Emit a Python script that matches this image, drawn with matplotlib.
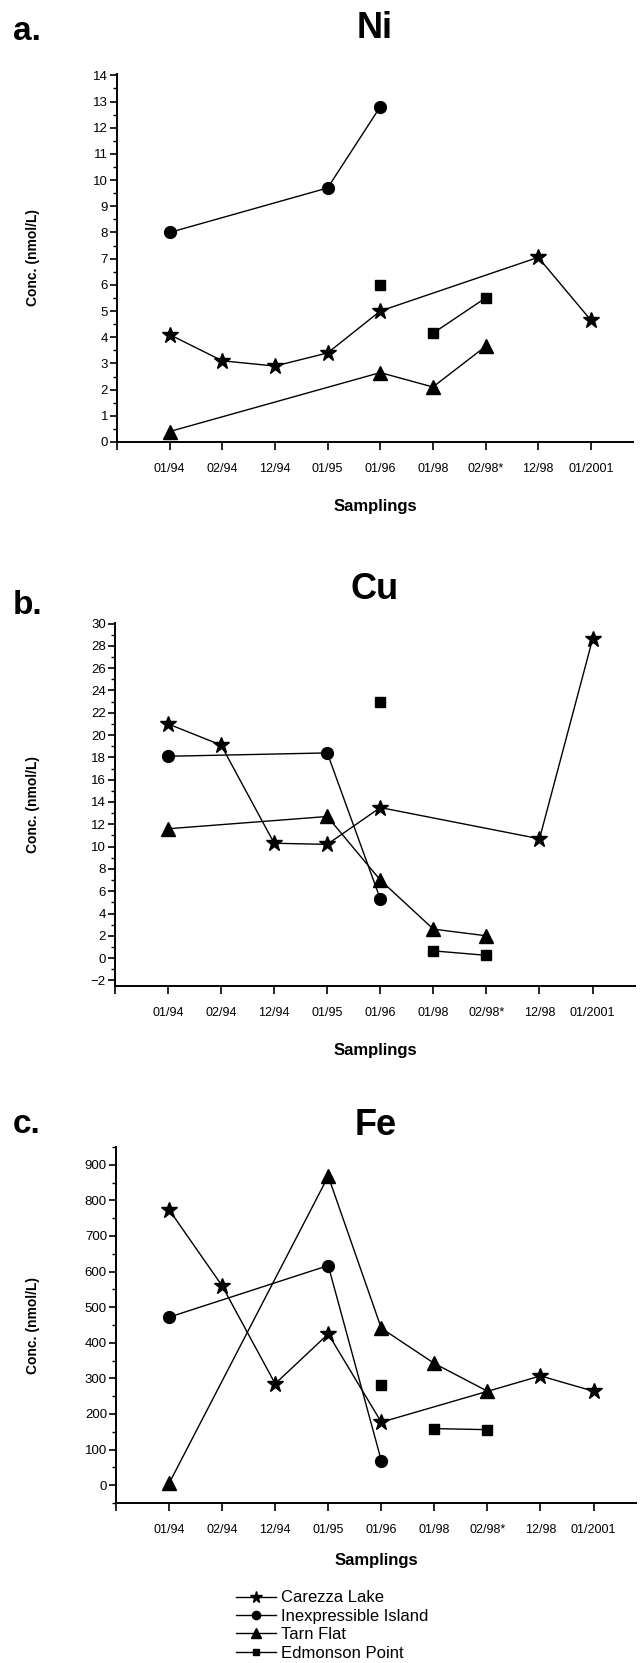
import numpy as np
import matplotlib
matplotlib.use("Agg")
import matplotlib.pyplot as plt
from matplotlib.ticker import MultipleLocator, FixedLocator
from matplotlib.lines import Line2D

plt.rcParams['font.family'] = ['Liberation Sans', 'DejaVu Sans']

# ---------------- data ----------------
samplings = ["01/94", "02/94", "12/94", "01/95", "01/96", "01/98", "02/98*", "12/98", "01/2001"]
series_names = ["Carezza Lake", "Inexpressible Island", "Tarn Flat", "Edmonson Point"]
N = None

ni_carezza = [4.1, 3.1, 2.9, 3.4, 5.0, N, N, 7.05, 4.65]
ni_inexpressible = [8.0, N, N, 9.7, 12.8, N, N, N, N]
ni_tarn = [0.4, N, N, N, 2.65, 2.1, 3.65, N, N]
ni_edmonson = [N, N, N, N, 6.0, 4.15, 5.5, N, N]

cu_carezza = [21.0, 19.1, 10.3, 10.2, 13.5, N, N, 10.7, 28.6]
cu_inexpressible = [18.1, N, N, 18.4, 5.3, N, N, N, N]
cu_tarn = [11.6, N, N, 12.7, 7.0, 2.6, 2.0, N, N]
cu_edmonson = [N, N, N, N, 23.0, 0.65, 0.25, N, N]

fe_carezza = [774, 560, 285, 425, 177, N, N, 307, 264]
fe_inexpressible = [472, N, N, 617, 69, N, N, N, N]
fe_tarn = [5, N, N, 868, 441, 342, 264, N, N]
fe_edmonson = [N, N, N, N, 281, 159, 156, N, N]

# Edmonson Point: 01/96 sample is not joined to the later ones
edmonson_break_after = "01/96"

markers = {"Carezza Lake": "*", "Inexpressible Island": "o", "Tarn Flat": "^", "Edmonson Point": "s"}
msizes = {"Carezza Lake": 12, "Inexpressible Island": 8.5, "Tarn Flat": 9.5, "Edmonson Point": 7}

W, H = 642, 1663
fig = plt.figure(figsize=(W / 100, H / 100), dpi=100)

def px_axes(l, r, t, b):
    return fig.add_axes([l / W, 1 - b / H, (r - l) / W, (b - t) / H])

panels = [
    dict(letter="a.", title="Ni", box=(117, 633, 74, 442), ylim=(0, 14.05), major=1, minor=0.5,
         data=[ni_carezza, ni_inexpressible, ni_tarn, ni_edmonson],
         title_y=38, letter_y=40, xlab_off=65, yticks=np.arange(0, 15, 1)),
    dict(letter="b.", title="Cu", box=(115, 635, 623, 986), ylim=(-2.5, 30.05), major=2, minor=1,
         data=[cu_carezza, cu_inexpressible, cu_tarn, cu_edmonson],
         title_y=599, letter_y=614, xlab_off=64, yticks=np.arange(-2, 31, 2)),
    dict(letter="c.", title="Fe", box=(116, 636, 1147, 1503), ylim=(-50, 950), major=100, minor=50,
         data=[fe_carezza, fe_inexpressible, fe_tarn, fe_edmonson],
         title_y=1135, letter_y=1133, xlab_off=57, yticks=np.arange(0, 901, 100)),
]

xpos = np.arange(1, len(samplings) + 1)
brk = samplings.index(edmonson_break_after) + 1

for p in panels:
    l, r, t, b = p["box"]
    ax = px_axes(l, r, t, b)
    for name, vals in zip(series_names, p["data"]):
        xs, ys = [], []
        for x, v in zip(xpos, vals):
            if v is None:
                continue
            if name == "Edmonson Point" and xs and xs[-1] == brk:
                xs.append(np.nan); ys.append(np.nan)
            xs.append(x); ys.append(v)
        ax.plot(xs, ys, color="black", lw=1.0, marker=markers[name],
                ms=msizes[name], mfc="black", mec="black", zorder=3)
    ax.set_xlim(0, 9.8)
    ax.set_ylim(*p["ylim"])
    for s in ["top", "right"]:
        ax.spines[s].set_visible(False)
    for s in ["left", "bottom"]:
        ax.spines[s].set_linewidth(1.4)
    ax.set_xticks(np.arange(0, 10))
    ax.set_xticklabels([""] + samplings)
    ax.yaxis.set_major_locator(FixedLocator(p["yticks"]))
    ax.yaxis.set_minor_locator(MultipleLocator(p["minor"]))
    ax.tick_params(axis="x", which="major", direction="out", length=6, width=1.2,
                   pad=9, labelsize=9)
    ax.tick_params(axis="y", which="major", direction="out", length=5, width=1.2,
                   pad=1.5, labelsize=9.5)
    ax.tick_params(axis="y", which="minor", direction="out", length=3, width=1.0)
    ax.set_xlabel("Samplings", fontsize=12, fontweight="bold")
    ax.xaxis.set_label_coords(0.5, -p["xlab_off"] / (b - t))
    ax.xaxis.label.set_va("center")
    ax.set_ylabel("Conc. (nmol/L)", fontsize=10, fontweight="bold")
    ax.yaxis.set_label_coords((33 - l) / (r - l), 0.5)
    ax.yaxis.label.set_va("center")
    fig.text((l + r) / 2 / W, 1 - p["title_y"] / H, p["title"], fontsize=26,
             fontweight="bold", ha="center", va="baseline")
    fig.text(13 / W, 1 - p["letter_y"] / H, p["letter"], fontsize=24,
             fontweight="bold", ha="left", va="baseline")

handles = [Line2D([], [], color="black", lw=1.0, marker=markers[n], ms=msizes[n] * 0.7,
                  mfc="black", mec="black") for n in series_names]
fig.legend(handles, series_names, loc="center left", bbox_to_anchor=(236 / W, 1 - 1625.5 / H),
           frameon=False, fontsize=12, handlelength=2.4, handletextpad=0.3,
           labelspacing=0.2, borderpad=0, borderaxespad=0)

fig.savefig("out.png", dpi=100)
